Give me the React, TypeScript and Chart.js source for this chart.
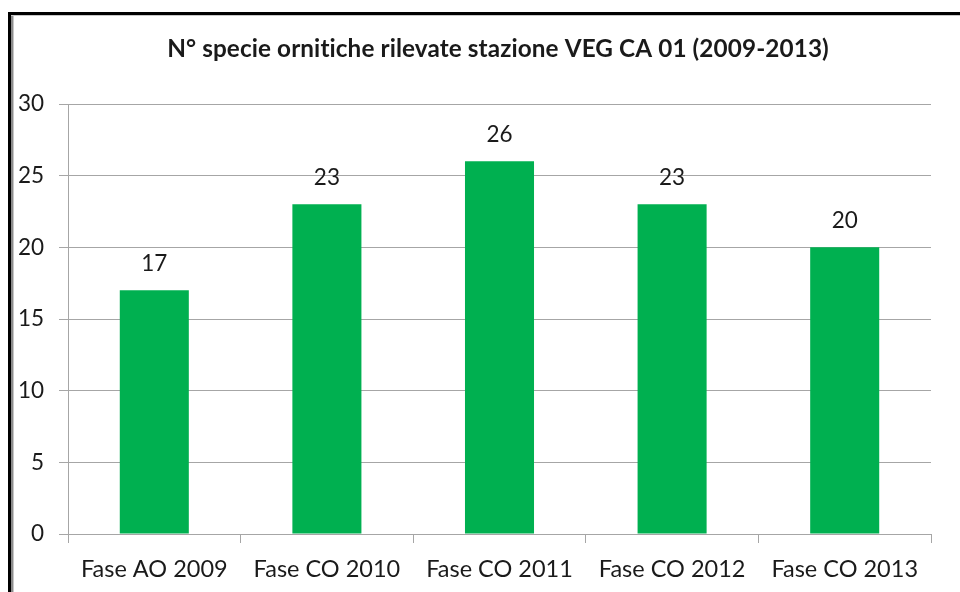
import React, { useEffect, useRef } from "react";
import { Chart, registerables } from "chart.js";

Chart.register(...registerables);

const chartTitle = "N° specie ornitiche rilevate stazione VEG CA 01 (2009-2013)";
const categories = ["Fase AO 2009", "Fase CO 2010", "Fase CO 2011", "Fase CO 2012", "Fase CO 2013"];
const speciesCount = [17, 23, 26, 23, 20];
const yMin = 0;
const yMax = 30;
const yStep = 5;

const FONT = "Lato, 'Open Sans', sans-serif";
const TEXT = "#1a1a1a";
const GRID = "#a6a6a6";
const GREEN = "#00b050";

const framePlugin = {
  id: "frame",
  beforeDraw(chart: any) {
    const ctx = chart.ctx;
    ctx.save();
    ctx.fillStyle = "#ffffff";
    ctx.fillRect(0, 0, chart.width, chart.height);
    // black outer frame
    ctx.fillStyle = "#000000";
    ctx.fillRect(8, 12, 960, 3);
    ctx.fillRect(8, 12, 3, 600);
    // gray inner shadow lines
    ctx.fillStyle = "#8c8c8c";
    ctx.fillRect(11, 15, 2, 600);
    ctx.fillStyle = "#c8c8c8";
    ctx.fillRect(13, 15, 1, 600);
    ctx.fillRect(11, 15, 960, 1);
    ctx.restore();
  },
  afterDraw(chart: any) {
    const ctx = chart.ctx;
    ctx.save();
    ctx.fillStyle = TEXT;
    ctx.font = `bold 24.3px ${FONT}`;
    try {
      (ctx as any).letterSpacing = "0.1px";
    } catch (e) {}
    ctx.textAlign = "center";
    ctx.textBaseline = "alphabetic";
    ctx.fillText(chartTitle, 498, 57);
    ctx.restore();
  },
};

const valueLabels = {
  id: "valueLabels",
  afterDatasetsDraw(chart: any) {
    const ctx = chart.ctx;
    const meta = chart.getDatasetMeta(0);
    const data = chart.data.datasets[0].data;
    ctx.save();
    ctx.fillStyle = TEXT;
    ctx.font = `22.5px ${FONT}`;
    ctx.textAlign = "center";
    ctx.textBaseline = "alphabetic";
    meta.data.forEach((bar: any, i: number) => {
      ctx.fillText(String(data[i]), bar.x, bar.y - 19);
    });
    ctx.restore();
  },
};

export default function App() {
  const ref = useRef<HTMLCanvasElement | null>(null);
  useEffect(() => {
    if (!ref.current) return;
    const chart = new Chart(ref.current, {
      type: "bar",
      data: {
        labels: categories,
        datasets: [
          {
            data: speciesCount,
            backgroundColor: GREEN,
            borderWidth: 0,
            barPercentage: 0.4,
            categoryPercentage: 1.0,
          },
        ],
      },
      options: {
        animation: false,
        responsive: false,
        maintainAspectRatio: false,
        layout: { padding: { top: 104, right: 29, bottom: 0, left: 0 } },
        plugins: {
          legend: { display: false },
          title: { display: false },
          tooltip: { enabled: false },
        },
        scales: {
          x: {
            grid: {
              display: true,
              drawOnChartArea: false,
              drawTicks: true,
              tickLength: 9,
              color: GRID,
              offset: true,
            },
            border: { display: true, color: GRID, width: 1 },
            ticks: {
              color: TEXT,
              font: { family: FONT, size: 23.5 },
              padding: 12,
              maxRotation: 0,
              autoSkip: false,
            },
            afterFit(scale: any) {
              scale.height = 58;
            },
          },
          y: {
            min: yMin,
            max: yMax,
            grid: {
              color: GRID,
              tickLength: 9,
              drawTicks: true,
            },
            border: { display: true, color: GRID, width: 1 },
            ticks: {
              stepSize: yStep,
              color: TEXT,
              font: { family: FONT, size: 22.5 },
              padding: 15,
            },
            afterFit(scale: any) {
              scale.width = 68;
            },
          },
        },
      },
      plugins: [framePlugin, valueLabels],
    });
    return () => chart.destroy();
  }, []);
  return (
    <div style={{ position: "fixed", left: 0, top: 0, width: 960, height: 592 }}>
      <canvas ref={ref} width={960} height={592} style={{ display: "block", width: 960, height: 592 }} />
    </div>
  );
}
